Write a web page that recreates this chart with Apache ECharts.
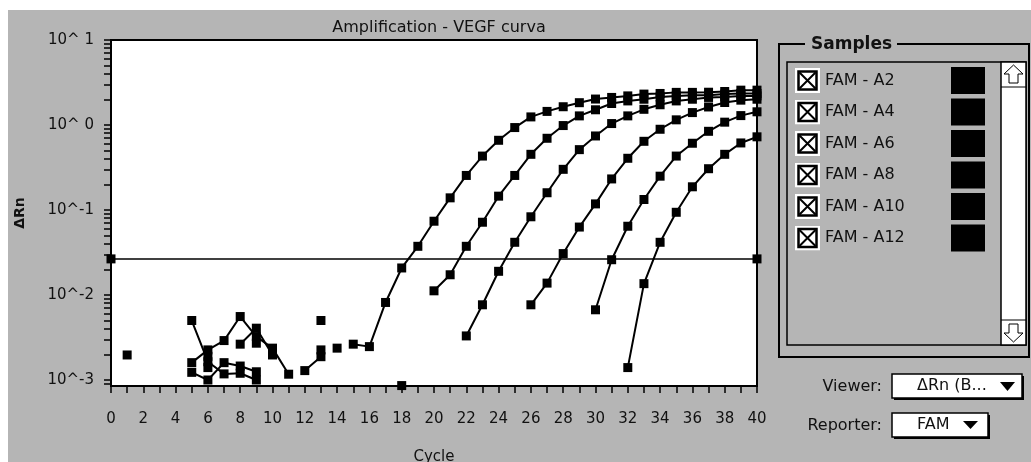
<!DOCTYPE html>
<html>
<head>
<meta charset="utf-8">
<script src="https://cdn.jsdelivr.net/npm/echarts@6/dist/echarts.min.js"></script>
<style>
  html, body { margin: 0; padding: 0; background: #fff; }
  #chart {
    width: 1031px; height: 462px;
    background: linear-gradient(#fff, #fff) 0 0 / 100% 10px no-repeat,
                linear-gradient(#fff, #fff) 0 0 / 8px 100% no-repeat,
                #b5b5b5;
  }
</style>
</head>
<body>
<div id="chart"></div>
<script>
// cycles on the x axis
var cycles = [0, 1, 2, 3, 4, 5, 6, 7, 8, 9, 10, 11, 12, 13, 14, 15, 16, 17, 18, 19, 20,
    21, 22, 23, 24, 25, 26, 27, 28, 29, 30, 31, 32, 33, 34, 35, 36, 37, 38, 39, 40];

var sampleNames = ['FAM - A2', 'FAM - A4', 'FAM - A6', 'FAM - A8', 'FAM - A10', 'FAM - A12'];

// delta Rn per cycle, null = not plotted
var rnA2 = [null, null, null, null, null, null, null, null, null, null, null,
    null, null, null, null, 0.00264, 0.00247, 0.00817, 0.0208, 0.0374, 0.0738,
    0.139, 0.255, 0.431, 0.661, 0.933, 1.245, 1.445, 1.64, 1.83, 2.02,
    2.11, 2.20, 2.31, 2.35, 2.42, 2.42, 2.43, 2.48, 2.57, 2.57];
var rnA4 = [null, null, null, null, null, 0.0016, 0.00226, 0.00291, 0.00558, 0.00324, 0.00237,
    0.00117, null, null, null, null, null, null, null, null, 0.0112,
    0.0173, 0.0374, 0.0718, 0.1455, 0.255, 0.452, 0.698, 0.985, 1.28, 1.51,
    1.79, 1.92, 2.01, 2.14, 2.20, 2.24, 2.24, 2.31, 2.35, 2.35];
var rnA6 = [null, 0.00197, null, null, null, 0.00501, 0.00164, 0.00118, 0.0012, 0.001, null,
    null, 0.00129, 0.00188, null, null, null, null, null, null, null,
    null, 0.0033, 0.00767, 0.019, 0.0417, 0.0832, 0.1596, 0.301, 0.513, 0.743,
    1.04, 1.28, 1.53, 1.73, 1.92, 2.01, 2.11, 2.14, 2.20, 2.20];
var rnA8 = [null, null, null, null, null, 0.00123, 0.001, 0.0016, 0.00146, 0.00125, null,
    null, null, 0.00501, null, null, null, null, 0.00086, null, null,
    null, null, null, null, null, 0.00767, 0.0138, 0.0307, 0.063, 0.118,
    0.232, 0.406, 0.643, 0.891, 1.15, 1.40, 1.63, 1.84, 1.96, 2.01];
var rnA10 = [null, null, null, null, null, null, 0.0014, null, 0.00264, 0.00407, 0.00197,
    null, null, null, 0.00237, null, null, null, null, null, null,
    null, null, null, null, null, null, null, null, null, 0.0067,
    0.026, 0.0644, 0.133, 0.25, 0.431, 0.61, 0.843, 1.08, 1.29, 1.43];
var rnA12 = [null, null, null, null, null, null, 0.0019, null, null, 0.00271, null,
    null, null, 0.00226, null, null, null, null, null, null, null,
    null, null, null, null, null, null, null, null, null, null,
    null, 0.0014, 0.0136, 0.0417, 0.094, 0.1875, 0.306, 0.452, 0.615, 0.726];

var threshold = 0.0266;

// log axis ticks
var yTickValues = [0.0009];
[0.001, 0.01, 0.1, 1].forEach(function (d) {
    for (var m = 1; m <= 9; m++) yTickValues.push(+(m * d).toPrecision(3));
});
yTickValues.push(10);
var yLabelValues = [0.001, 0.01, 0.1, 1, 10];

var font = 'DejaVu Sans';

var checkSvg = "<svg xmlns='http://www.w3.org/2000/svg' width='25' height='25'>" +
    "<rect width='25' height='25' fill='#fff'/>" +
    "<rect x='3.5' y='3.5' width='18' height='18' fill='none' stroke='#000' stroke-width='2.5'/>" +
    "<path d='M4.5 4.5L20.5 20.5M20.5 4.5L4.5 20.5' stroke='#000' stroke-width='2'/></svg>";
var checkIcon = 'image://data:image/svg+xml;charset=utf-8,' + encodeURIComponent(checkSvg);

function toPairs(values) {
    return cycles.map(function (c, i) {
        return [c, values[i] == null ? '-' : values[i]];
    });
}

var allValues = [rnA2, rnA4, rnA6, rnA8, rnA10, rnA12];

var series = allValues.map(function (vals, i) {
    return {
        name: sampleNames[i],
        type: 'line',
        data: toPairs(vals),
        symbol: 'rect',
        symbolSize: 9,
        showAllSymbol: true,
        connectNulls: false,
        color: '#000',
        lineStyle: { color: '#000', width: 2 },
        itemStyle: { color: '#000' },
        emphasis: { disabled: true },
        animation: false
    };
});

series.push({
    name: 'threshold',
    type: 'line',
    data: [[cycles[0], threshold], [cycles[cycles.length - 1], threshold]],
    symbol: 'rect',
    symbolSize: 9,
    lineStyle: { color: '#000', width: 1.5 },
    itemStyle: { color: '#000' },
    animation: false
});

function arrowUp(x, y) {
    return [[x + 12.5, y + 3], [x + 22, y + 12], [x + 17, y + 12], [x + 17, y + 21],
        [x + 8, y + 21], [x + 8, y + 12], [x + 3, y + 12]];
}
function arrowDown(x, y) {
    return [[x + 12.5, y + 22], [x + 22, y + 13], [x + 17, y + 13], [x + 17, y + 4],
        [x + 8, y + 4], [x + 8, y + 13], [x + 3, y + 13]];
}

var option = {
    textStyle: { fontFamily: font },
    title: {
        text: 'Amplification - VEGF curva',
        left: 434,
        textAlign: 'center',
        top: 15,
        textStyle: { fontFamily: font, fontSize: 16, fontWeight: 'normal', color: '#111' }
    },
    grid: {
        left: 111, right: 274, top: 40, bottom: 76,
        outerBoundsMode: 'none',
        show: true, backgroundColor: '#fff', borderColor: '#000', borderWidth: 2
    },
    legend: {
        orient: 'vertical',
        left: 790,
        top: 62,
        itemWidth: 25,
        itemHeight: 25,
        itemGap: 4.5,
        icon: checkIcon,
        selectedMode: false,
        data: sampleNames,
        formatter: function (name) { return '{n|' + name + '}{s| }'; },
        textStyle: {
            rich: {
                n: { width: 126, fontSize: 16, fontFamily: font, color: '#111' },
                s: { width: 34, height: 27, backgroundColor: '#000' }
            }
        }
    },
    xAxis: {
        type: 'value',
        min: 0, max: 40, interval: 2,
        name: 'Cycle',
        nameLocation: 'middle',
        nameGap: 64,
        nameTextStyle: { fontFamily: font, fontSize: 15, color: '#111' },
        axisLine: { lineStyle: { color: '#000', width: 2 } },
        axisTick: { length: 7, lineStyle: { color: '#000', width: 1.5 } },
        minorTick: { show: true, splitNumber: 2, length: 7, lineStyle: { color: '#000', width: 1.5 } },
        axisLabel: { fontFamily: font, fontSize: 15, color: '#111', margin: 26 },
        splitLine: { show: false }
    },
    yAxis: {
        type: 'log',
        logBase: 10,
        min: 0.00085, max: 10,
        name: 'ΔRn',
        nameLocation: 'middle',
        nameRotate: 90,
        nameGap: 84,
        nameTextStyle: { fontFamily: font, fontSize: 14, fontWeight: 'bold', color: '#111' },
        axisLine: { show: true, lineStyle: { color: '#000', width: 2 } },
        axisTick: { length: 7, customValues: yTickValues, lineStyle: { color: '#000', width: 1.5 } },
        axisLabel: {
            customValues: yLabelValues,
            fontFamily: font, fontSize: 15, color: '#111', margin: 17,
            formatter: function (v) {
                var e = Math.round(Math.log10(v));
                return '10^' + (e >= 0 ? ' ' + e : e);
            }
        },
        splitLine: { show: false }
    },
    graphic: [
        // Samples frame
        { type: 'polyline', shape: { points: [[805, 44], [779, 44], [779, 357], [1029, 357], [1029, 44], [897, 44]] },
          style: { stroke: '#000', lineWidth: 2, fill: null } },
        { type: 'text', x: 811, y: 45,
          style: { text: 'Samples', fontFamily: font, fontSize: 17, fontWeight: 'bold', fill: '#111', verticalAlign: 'middle' } },
        { type: 'rect', shape: { x: 787, y: 62, width: 239, height: 283 },
          style: { stroke: '#000', lineWidth: 1.5, fill: null } },
        // scrollbar
        { type: 'rect', shape: { x: 1001, y: 62, width: 25, height: 283 },
          style: { stroke: '#000', lineWidth: 1.5, fill: '#fff' } },
        { type: 'line', shape: { x1: 1001, y1: 87, x2: 1026, y2: 87 }, style: { stroke: '#000', lineWidth: 1 } },
        { type: 'line', shape: { x1: 1001, y1: 320, x2: 1026, y2: 320 }, style: { stroke: '#000', lineWidth: 1 } },
        { type: 'polygon', shape: { points: arrowUp(1001, 62) }, style: { fill: '#fff', stroke: '#000', lineWidth: 1 } },
        { type: 'polygon', shape: { points: arrowDown(1001, 320) }, style: { fill: '#fff', stroke: '#000', lineWidth: 1 } },
        // Viewer
        { type: 'text', x: 882, y: 387,
          style: { text: 'Viewer:', fontFamily: font, fontSize: 16, fill: '#111', align: 'right', verticalAlign: 'middle' } },
        { type: 'rect', shape: { x: 894, y: 376, width: 130, height: 24 }, style: { fill: '#000' } },
        { type: 'rect', shape: { x: 892, y: 374, width: 130, height: 24 }, style: { fill: '#fff', stroke: '#000', lineWidth: 1.5 } },
        { type: 'text', x: 917, y: 386,
          style: { text: 'ΔRn (B...', fontFamily: font, fontSize: 16, fill: '#111', verticalAlign: 'middle' } },
        { type: 'polygon', shape: { points: [[1000, 382], [1015, 382], [1007.5, 391]] }, style: { fill: '#000' } },
        // Reporter
        { type: 'text', x: 882, y: 426,
          style: { text: 'Reporter:', fontFamily: font, fontSize: 16, fill: '#111', align: 'right', verticalAlign: 'middle' } },
        { type: 'rect', shape: { x: 894, y: 415, width: 96, height: 24 }, style: { fill: '#000' } },
        { type: 'rect', shape: { x: 892, y: 413, width: 96, height: 24 }, style: { fill: '#fff', stroke: '#000', lineWidth: 1.5 } },
        { type: 'text', x: 917, y: 425,
          style: { text: 'FAM', fontFamily: font, fontSize: 16, fill: '#111', verticalAlign: 'middle' } },
        { type: 'polygon', shape: { points: [[963, 421], [978, 421], [970.5, 429]] }, style: { fill: '#000' } }
    ],
    series: series
};

var chart = echarts.init(document.getElementById('chart'));
chart.setOption(option);
</script>
</body>
</html>
